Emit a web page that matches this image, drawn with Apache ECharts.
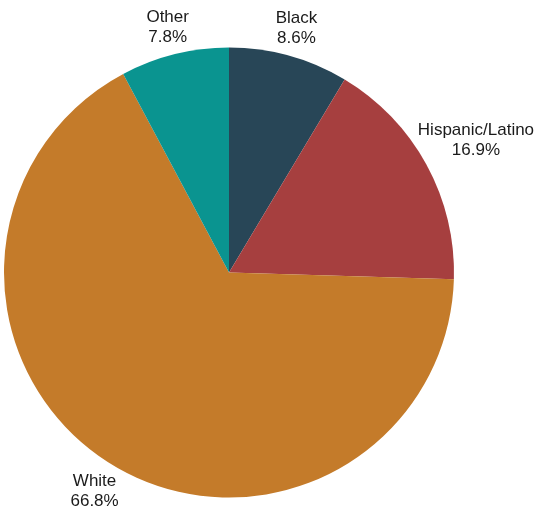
<!DOCTYPE html>
<html>
<head>
<meta charset="utf-8">
<script src="https://cdn.jsdelivr.net/npm/echarts@6/dist/echarts.min.js"></script>
<style>html,body{margin:0;padding:0;background:#fff;}#c{width:540px;height:514px;}</style>
</head>
<body>
<div id="c"></div>
<script>
const categories = ['Black', 'Hispanic/Latino', 'White', 'Other'];
const values = [8.6, 16.9, 66.8, 7.8];
const colors = ['#284657', '#A63F3F', '#C47B2A', '#0A9490'];

const chart = echarts.init(document.getElementById('c'), null, {renderer: 'canvas'});
const mainData = categories.map((n, i) => ({name: n, value: values[i], itemStyle: {color: colors[i]}}));
const labelOffsets = {'Hispanic/Latino': [25, -11], 'White': [-1, 4]};
const labelData = categories.map((n, i) => {
  const item = {name: n, value: values[i]};
  if (labelOffsets[n]) item.label = {offset: labelOffsets[n]};
  return item;
});
chart.setOption({
  animation: false,
  series: [
    {
      type: 'pie',
      center: [229, 272.5],
      radius: [0, 225],
      startAngle: 90,
      clockwise: true,
      silent: true,
      label: {show: false},
      labelLine: {show: false},
      itemStyle: {borderWidth: 0},
      data: mainData
    },
    {
      type: 'pie',
      center: [229, 272.5],
      radius: [236, 264],
      startAngle: 90,
      clockwise: true,
      silent: true,
      itemStyle: {color: 'rgba(0,0,0,0)', borderWidth: 0},
      label: {
        show: true,
        position: 'inside',
        formatter: '{b}\n{c}%',
        fontFamily: 'Liberation Sans, Arial, sans-serif',
        fontSize: 17,
        lineHeight: 20,
        color: '#1a1a1a',
        align: 'center'
      },
      labelLine: {show: false},
      data: labelData
    }
  ]
});
</script>
</body>
</html>
